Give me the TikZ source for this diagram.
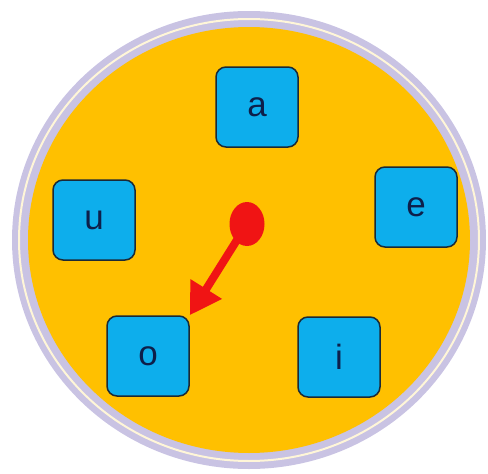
\documentclass[tikz,border=0pt]{standalone}
\usepackage{fontspec}
\setmainfont{Liberation Sans}
\usetikzlibrary{shapes.geometric,arrows.meta}
\definecolor{lav}{HTML}{C9C3E3}
\definecolor{paleline}{HTML}{FFF6D8}
\definecolor{orng}{HTML}{FFC000}
\definecolor{cyanbox}{HTML}{0DAEEC}
\definecolor{boxedge}{HTML}{1B2A36}
\definecolor{txt}{HTML}{0D1F4A}
\definecolor{redd}{HTML}{F01414}
\begin{document}
\begin{tikzpicture}[x=1pt,y=-1pt,
  vowel/.style={draw=boxedge,line width=1.5pt,fill=cyanbox,rounded corners=10pt,
    minimum width=82pt,minimum height=80pt,inner sep=0pt,text=txt,
    font=\fontsize{35}{40}\selectfont},
  pointer/.style={redd,line width=8pt,-{Triangle[length=31pt,width=35pt]}}]
\useasboundingbox (0,0) rectangle (488,474);
\fill[lav] (249,240) ellipse [x radius=237,y radius=229];
\draw[paleline,line width=2pt] (249,240) ellipse [x radius=230,y radius=221];
\fill[orng] (249,240) ellipse [x radius=221,y radius=213];
\node[vowel] (a) at (257,107) {a};
\node[vowel] (e) at (416,207) {e};
\node[vowel] (u) at (94,220) {u};
\node[vowel] (o) at (148,356) {o};
\node[vowel] (i) at (339,357) {i};
\node[ellipse,fill=redd,minimum width=35pt,minimum height=44pt,inner sep=0pt] (dot) at (247,224) {};
\draw[pointer] (dot.center) -- (o.north east);
\end{tikzpicture}
\end{document}
